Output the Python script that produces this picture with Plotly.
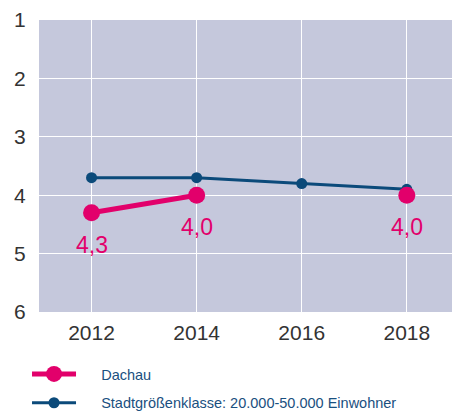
import plotly.graph_objects as go

years = [2012, 2014, 2016, 2018]
dachau = [4.3, 4.0, None, 4.0]
dachau_labels = ["4,3", "4,0", "", "4,0"]
klasse = [3.7, 3.7, 3.8, 3.9]
y_ticks = [1, 2, 3, 4, 5, 6]
series_names = ["Dachau", "Stadtgrößenklasse: 20.000-50.000 Einwohner"]

PINK = "#e2006b"
NAVY = "#0b4a7a"
PAD = "\u00a0" * 5

fig = go.Figure()
fig.add_trace(go.Scatter(
    x=years, y=klasse, mode="lines+markers", name=PAD + series_names[1],
    line=dict(color=NAVY, width=3), marker=dict(color=NAVY, size=11),
    legendrank=2, legendgroup="b"))
fig.add_trace(go.Scatter(
    x=years, y=dachau, mode="lines+markers", name=PAD + series_names[0],
    line=dict(color=PINK, width=5), marker=dict(color=PINK, size=17),
    connectgaps=False, legendrank=1, legendgroup="a"))

for xv, yv, lab in zip(years, dachau, dachau_labels):
    if yv is None or not lab:
        continue
    fig.add_annotation(x=xv, y=yv, text=lab, showarrow=False, yshift=-32,
                       font=dict(color=PINK, size=23, family="Liberation Sans"))

fig.update_layout(
    width=452, height=419,
    margin=dict(l=39, r=0, t=20, b=107),
    paper_bgcolor="white", plot_bgcolor="#c5c8dc",
    font=dict(family="Liberation Sans", color="#333333"),
    xaxis=dict(range=[2011, 2018.86], tickvals=years, showgrid=True, gridcolor="white", gridwidth=1,
               zeroline=False, tickfont=dict(size=21, color="#333333"), automargin=False,
               ticks="outside", ticklen=2, tickcolor="rgba(0,0,0,0)", fixedrange=True),
    yaxis=dict(range=[6, 1], tickvals=y_ticks, showgrid=True, gridcolor="white", gridwidth=1,
               zeroline=False, tickfont=dict(size=21, color="#333333"), automargin=False,
               ticks="outside", ticklen=8, tickcolor="rgba(0,0,0,0)", fixedrange=True),
    legend=dict(x=-0.029, y=-0.3664, xanchor="left", yanchor="bottom",
                orientation="v", font=dict(size=14.5, color="#1a5080"), bgcolor="rgba(0,0,0,0)",
                itemwidth=44, tracegroupgap=7),
    showlegend=True,
)
fig.write_html("out.html", post_script="document.body.style.margin='0';",
               config={"displayModeBar": False})
